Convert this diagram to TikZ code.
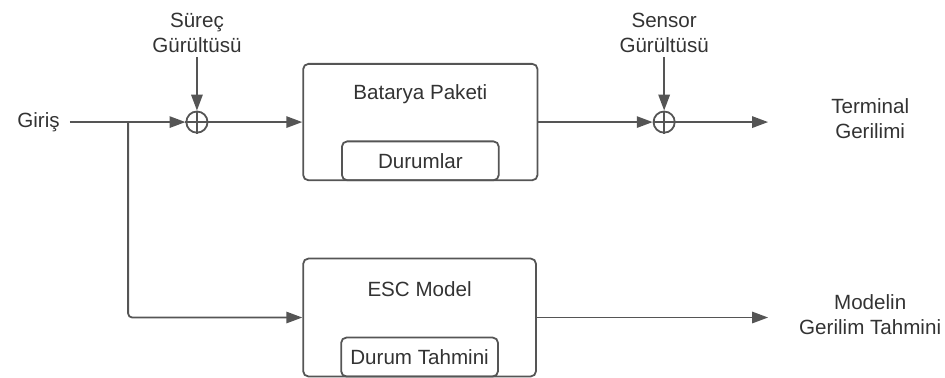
\documentclass[tikz,border=0pt]{standalone}
\usepackage{fontspec}
\setmainfont{Liberation Sans}
\usetikzlibrary{arrows.meta,calc,positioning}
\definecolor{lineg}{RGB}{85,85,85}
\definecolor{textg}{RGB}{51,51,51}
\begin{document}
\begin{tikzpicture}[font=\fontsize{15.5}{18.7}\selectfont,text=textg,
  >={Triangle[length=4.2mm,width=3mm]},
  line/.style={draw=lineg,line width=1.35pt},
  block/.style={line,rounded corners=4pt,minimum width=6.2cm,minimum height=3.08cm},
  inner/.style={line,rounded corners=4pt,minimum width=4.15cm,minimum height=1.03cm,anchor=south},
  sum/.style={line,circle,minimum size=0.56cm,inner sep=0pt}]
  \useasboundingbox (0,0) rectangle (25,10);
  % blocks
  \node[block] (bat) at (11.12,6.77) {};
  \node[block,minimum width=6.16cm,minimum height=3.12cm] (esc) at (11.1,1.6) {};
  \node at ([yshift=-0.82cm]bat.north) {Batarya Paketi};
  \node at ([yshift=-0.82cm]esc.north) {ESC Model};
  \node[inner] (dur) at (bat.south) {Durumlar};
  \node[inner] (dth) at (esc.south) {Durum Tahmini};
  % summing points
  \node[sum] (sum1) at (5.21,6.77) {};
  \node[sum] (sum2) at (17.57,6.77) {};
  \foreach \s in {sum1,sum2} {
    \draw[line] (\s.north) -- (\s.south);
    \draw[line] (\s.west) -- (\s.east);
  }
  % labels
  \node[inner xsep=7.5pt] (giris) at (1.02,6.77) {Giriş};
  \node[align=center] (pnoise) at (5.21,9.14) {Süreç\\Gürültüsü};
  \node[align=center] (snoise) at (17.57,9.14) {Sensor\\Gürültüsü};
  \node[align=center] (vterm) at (23.02,6.87) {Terminal\\Gerilimi};
  \node[align=center] (vmod) at (23.02,1.67) {Modelin\\Gerilim Tahmini};
  \coordinate (br) at (3.39,6.77);
  \coordinate (out1) at (20.32,6.77);
  \coordinate (out2) at (20.32,1.6);
  % connectors
  \draw[line] (giris.east) -- (br);
  \draw[line,->] (br) -- (sum1.west);
  \draw[line,->,rounded corners=3pt] (br) |- (esc.west);
  \draw[line,->] (pnoise.south) -- (sum1.north);
  \draw[line,->] (sum1.east) -- (bat.west);
  \draw[line,->] (bat.east) -- (sum2.west);
  \draw[line,->] (snoise.south) -- (sum2.north);
  \draw[line,->] (sum2.east) -- (out1);
  \draw[line,->] (esc.east) -- (out2);
\end{tikzpicture}
\end{document}
